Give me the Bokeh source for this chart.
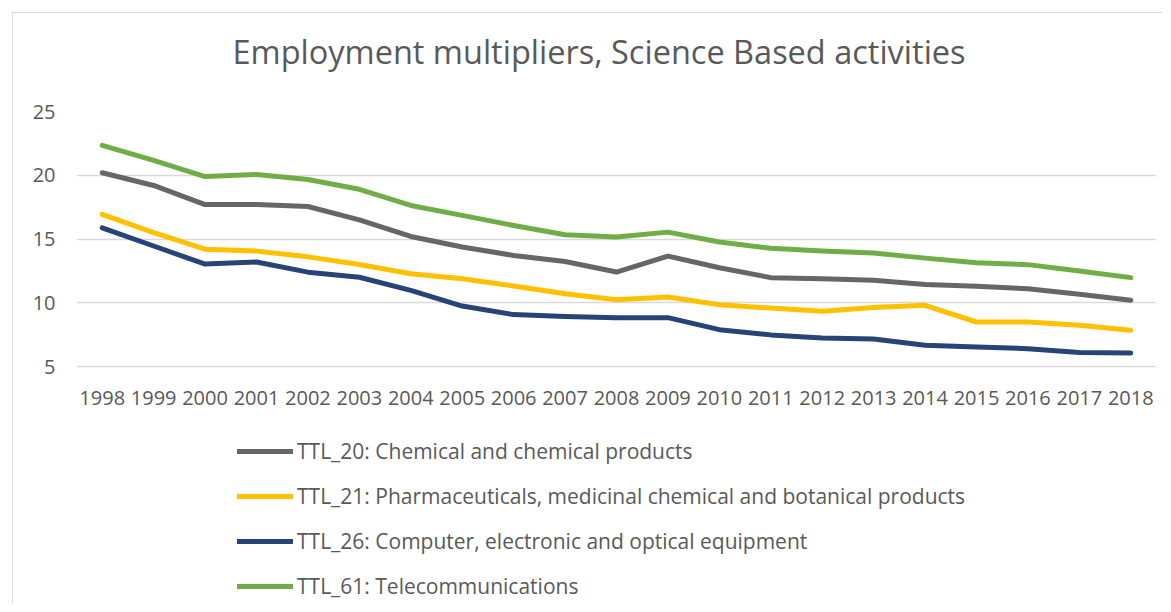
from bokeh.plotting import figure
from bokeh.models import FactorRange, Range1d, FixedTicker, Legend, LegendItem
from bokeh.embed import file_html
from bokeh.resources import INLINE

years = [str(y) for y in range(1998, 2019)]
ttl_20 = [20.2, 19.2, 17.7, 17.7, 17.55, 16.5, 15.2, 14.37, 13.71, 13.24, 12.41,
          13.66, 12.75, 11.97, 11.89, 11.76, 11.44, 11.29, 11.1, 10.66, 10.19]
ttl_21 = [16.93, 15.5, 14.2, 14.05, 13.6, 13.0, 12.28, 11.89, 11.31, 10.71, 10.24,
          10.45, 9.85, 9.58, 9.33, 9.62, 9.8, 8.49, 8.49, 8.23, 7.84]
ttl_26 = [15.88, 14.45, 13.03, 13.19, 12.4, 12.0, 10.97, 9.74, 9.07, 8.93, 8.83,
          8.83, 7.89, 7.48, 7.23, 7.15, 6.66, 6.53, 6.4, 6.09, 6.06]
ttl_61 = [22.34, 21.16, 19.9, 20.06, 19.67, 18.9, 17.63, 16.85, 16.06, 15.33, 15.15,
          15.54, 14.76, 14.27, 14.05, 13.9, 13.5, 13.14, 12.99, 12.49, 11.97]
series_names = ["TTL_20: Chemical and chemical products",
                "TTL_21: Pharmaceuticals, medicinal chemical and botanical products",
                "TTL_26: Computer, electronic and optical equipment",
                "TTL_61: Telecommunications"]
y_ticks = [5, 10, 15, 20, 25]
title_text = "Employment multipliers, Science Based activities"

colors = ["#666666", "#FFC000", "#264478", "#70AD47"]
text_color = "#595959"
FONT = "Open Sans"

# the plotting frame also hosts the legend below the value axis:
# 5..25 occupies the top 255 px of a 493 px tall frame
y_min, y_max = 5, 25
frame_h, value_h = 493, 255
y_start = y_max - (y_max - y_min) * frame_h / value_h

p = figure(width=1150, height=591, x_range=FactorRange(*years, range_padding=0),
           y_range=Range1d(y_start, y_max), output_backend="svg", toolbar_location=None,
           min_border_left=63, min_border_right=7, min_border_top=98, min_border_bottom=0)
p.styles = {"margin-left": "12px", "margin-top": "12px",
            "border-top": "1px solid #d9d9d9", "border-left": "1px solid #d9d9d9"}

# trailing empty line lifts the title higher inside the top border
p.title.text = title_text + "\n"
p.title.align = "left"
p.title.offset = 156
p.title.vertical_align = "top"
p.title.text_font = FONT
p.title.text_font_size = "32.5px"
p.title.text_font_style = "normal"
p.title.text_line_height = 0.79
p.title.text_color = text_color
p.title.standoff = 0

p.outline_line_color = None
p.xgrid.grid_line_color = None
p.ygrid.grid_line_color = "#d9d9d9"
p.ygrid.grid_line_width = 1.5
p.yaxis.ticker = FixedTicker(ticks=y_ticks)
p.xaxis.fixed_location = y_min

for ax in (p.xaxis, p.yaxis):
    ax.axis_line_color = None
    ax.major_tick_line_color = None
    ax.minor_tick_line_color = None
    ax.major_label_text_font = FONT
    ax.major_label_text_font_size = "20px"
    ax.major_label_text_color = text_color
p.xaxis.major_label_standoff = 18
p.yaxis.major_label_standoff = 15

items = []
for name, vals, c in zip(series_names, [ttl_20, ttl_21, ttl_26, ttl_61], colors):
    r = p.line(years, vals, line_color=c, line_width=5, line_cap="round", line_join="round")
    items.append(LegendItem(label=name, renderers=[r]))

legend = Legend(items=items, location=(161, 3), glyph_width=56, glyph_height=30,
                label_height=30, spacing=15, padding=4, margin=0, label_standoff=4,
                label_text_font=FONT, label_text_font_size="21px",
                label_text_color=text_color, border_line_color=None,
                background_fill_alpha=0)
p.add_layout(legend, "center")

open("out.html", "w").write(file_html(p, INLINE))
